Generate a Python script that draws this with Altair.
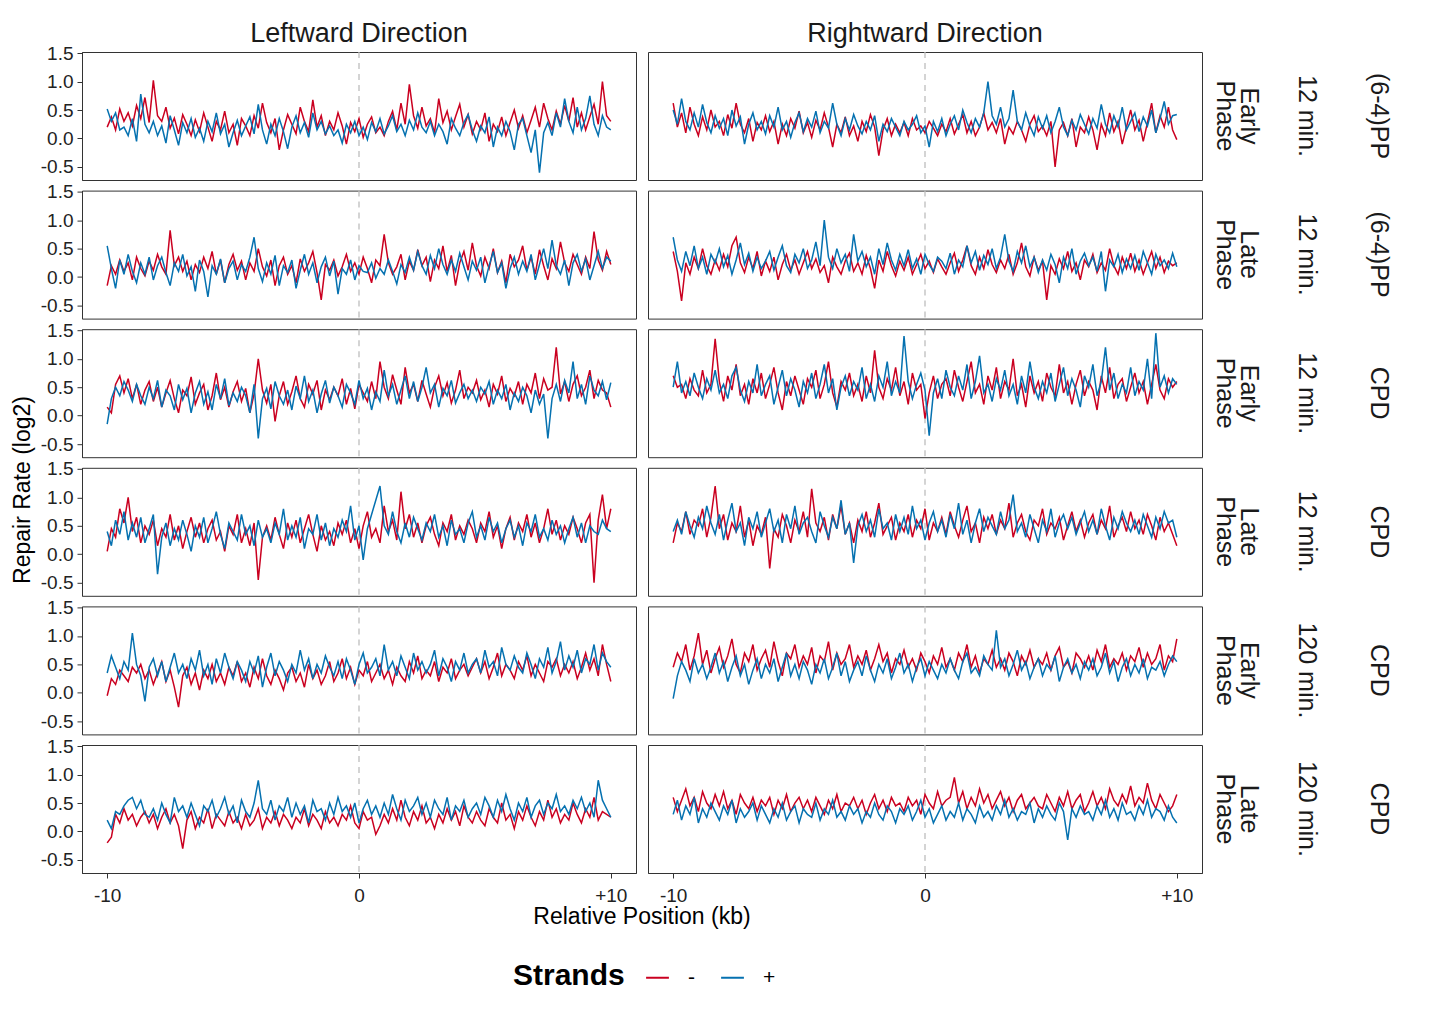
import altair as alt
import pandas as pd
import numpy as np

ROW_KEYS = [
    "(6-4)PP;12 min.;Early Phase",
    "(6-4)PP;12 min.;Late Phase",
    "CPD;12 min.;Early Phase",
    "CPD;12 min.;Late Phase",
    "CPD;120 min.;Early Phase",
    "CPD;120 min.;Late Phase",
]
DIRECTIONS = ["Leftward Direction", "Rightward Direction"]
STRANDS = ["-", "+"]
X_TICKS = [-10, 0, 10]
Y_TICKS = [-0.5, 0.0, 0.5, 1.0, 1.5]
X_TITLE = "Relative Position (kb)"
Y_TITLE = "Repair Rate (log2)"

# ---------- (6-4)PP, 12 min., Early Phase ----------
pp_e_left_minus = [
    .20, .38, .15, .52, .30, .45, .22, .58, .35, .72, .28,
    1.02, .40, .30, .55, .18, .36, .08, .42, .25, .05, .33,
    .12, .45, .20, -.05, .30, .15, .48, .10, .25, -.12, .35,
    .22, .05, .40, .18, .62, .28, .10, .35, -.20, .15, .42,
    .25, .08, .55, .30, .12, .68, .20, .40, .05, .30, .15,
    .45, .22, -.10, .28, .12, .35, .02, .25, .38, .10, .20,
    .05, .30, .48, .15, .62, .25, .95, .40, .18, .55, .22,
    .35, .10, .70, .28, .48, .15, .38, .60, .20, .42, .08,
    .30, .15, .45, -.05, .25, .12, .38, .05, .28, .50, .18,
    .40, .10, .32, .55, .20, .62, .35, .15, .48, .25, .58,
    .30, .72, .20, .45, .15, .38, .60, .25, 1.00, .40, .30,
]
pp_e_left_plus = [
    .52, .30, .45, .15, .20, .05, .35, -.05, .78, .25, .10,
    .30, .05, .22, -.08, .40, .15, -.12, .28, .10, .35, .02,
    .18, -.05, .30, .12, .45, .08, .25, -.15, .10, .32, .05,
    .22, .38, .08, .60, .15, -.10, .25, .05, .35, .12, -.18,
    .20, .40, .10, .28, .02, .45, .15, .30, .08, .22, .05,
    .15, -.08, .25, .10, .30, .05, .20, -.02, .28, .12, .35,
    .08, .22, .40, .12, .25, .05, .32, .15, .45, .20, .10,
    .30, .05, .25, .12, -.10, .35, .18, .05, .28, .42, .15,
    -.05, .22, .10, .38, -.15, .20, .05, .30, .12, -.20, .25,
    .35, .05, -.25, .15, -.60, .10, .28, .05, .45, .20, .70,
    .30, .10, .55, .15, .35, .75, .25, .05, .40, .20, .15,
]
pp_e_right_minus = [
    .62, .20, .45, .10, .55, .25, .05, .38, .15, .50, .20,
    .30, .05, .42, .18, .62, .25, .10, .35, -.05, .28, .15,
    .40, .12, .30, -.10, .25, .05, .35, .18, .48, .10, .28,
    .02, .32, .15, .45, .20, -.15, .25, .10, .38, .05, .22,
    -.05, .30, .12, .42, .20, -.30, .15, .35, .05, .25, .10,
    .28, .05, .35, .15, .22, .10, .30, .18, .05, .25, .12,
    .35, .08, .25, .42, .10, .30, .05, .20, .45, .15, .28,
    .10, .35, -.10, .20, .08, .30, .15, -.05, .25, .40, .12,
    .22, .05, .30, -.50, .15, .28, .05, .35, -.15, .20, .10,
    .38, .15, -.20, .25, .05, .45, .12, .30, -.10, .20, .50,
    .15, .32, -.05, .28, .62, .10, .40, .20, .55, .15, -.02,
]
pp_e_right_plus = [
    .50, .25, .70, .30, .15, .45, .20, .60, .28, .10, .40,
    .18, .35, .05, .50, .22, .38, -.10, .25, .45, .15, .30,
    .08, .40, .20, .55, .15, .30, .02, .28, .45, .12, .35,
    .20, .48, .10, .30, .18, .62, .25, .05, .35, .15, .42,
    .22, .08, .30, .15, .40, -.05, .25, .12, .35, .20, .05,
    .30, .15, .25, .40, .10, .22, -.15, .30, .12, .35, .05,
    .25, .40, .15, .50, .28, .10, .35, .20, .45, 1.00, .40,
    .25, .55, .20, .35, .85, .30, .15, .45, .22, .05, .38,
    .18, .40, .10, .30, .55, .20, .05, .32, .15, .42, .25,
    .08, .35, .18, .60, .25, .10, .40, .20, .55, .15, .30,
    .45, .12, .38, .22, .50, .10, .35, .65, .25, .40, .42,
]

# ---------- (6-4)PP, 12 min., Late Phase ----------
pp_l_left_minus = [
    -.15, .20, .05, .30, .10, .25, -.05, .35, .15, .02, .28,
    .12, .40, .18, .05, .82, .20, .35, .10, .28, -.05, .22,
    .08, .35, .15, .45, .05, .30, -.10, .22, .40, .12, .28,
    -.05, .25, .10, .50, .18, .02, .30, -.15, .20, .35, .05,
    .20, -.10, .32, .10, .25, .45, .08, -.40, .22, .12, .30,
    .02, .18, .40, .10, .25, .05, .35, .15, -.10, .30, .20,
    .75, .25, .05, .18, .40, -.05, .28, .12, .48, .20, .35,
    -.08, .30, .15, .55, .10, .38, -.15, .25, .45, .12, .60,
    .20, .02, .35, .15, .50, .08, .28, -.10, .40, .18, .30,
    .55, .12, .35, .05, .48, .20, -.05, .32, .15, .62, .25,
    .10, .40, .22, .05, .35, .15, .80, .30, .12, .45, .22,
]
pp_l_left_plus = [
    .55, .15, -.20, .30, .05, .40, .10, -.10, .25, .05, .35,
    -.05, .20, .35, .08, -.15, .25, .10, .40, .02, .18, -.25,
    .30, .10, -.35, .20, .05, .32, -.10, .15, .28, -.05, .22,
    .10, .35, .70, .15, -.08, .25, .05, .38, -.15, .20, .08,
    .30, -.20, .12, .40, .05, .25, -.10, .18, .35, .02, .28,
    -.30, .15, .05, .30, -.05, .20, .10, .08, .25, -.02, .15,
    .05, .30, .10, -.12, .22, .08, .35, .12, .45, .20, .05,
    .38, .15, .50, .22, .05, .30, .10, .42, .18, -.05, .28,
    .12, .35, -.10, .20, .45, .08, .25, -.20, .15, .35, .05,
    .28, .10, .40, -.05, .22, .50, .15, .65, .20, .05, .30,
    -.15, .25, .40, .10, .32, -.05, .20, .45, .15, .35, .28,
]
pp_l_right_minus = [
    .45, .10, -.42, .25, .05, .35, .15, .50, .20, .05, .30,
    .12, .40, .18, .55, .70, .25, .08, .35, .15, .45, .02,
    .28, .10, .35, -.05, .22, .40, .12, .30, .05, .25, .45,
    .15, .32, .08, .20, -.10, .35, .18, .05, .28, .42, .10,
    .25, .05, .38, .15, -.20, .30, .10, .45, .20, .02, .28,
    .12, .35, .05, .22, .40, .15, .28, .08, .32, .18, .05,
    .25, .42, .10, .30, .55, .20, .05, .35, .15, .48, .22,
    .08, .30, .15, .40, .05, .25, .60, .18, .02, .35, .12,
    .28, -.40, .20, .05, .32, .15, .45, .10, .25, -.05, .30,
    .18, .40, .08, .25, .12, .50, .20, .05, .35, .15, .42,
    .10, .30, .05, .25, .45, .15, .35, .08, .28, .20, .25,
]
pp_l_right_plus = [
    .70, .30, .10, .45, .20, .55, .15, .35, .05, .40, .25,
    .50, .18, .38, .05, .30, .60, .22, .42, .10, .35, .15,
    .28, .45, .12, .35, .55, .20, .08, .40, .25, .50, .15,
    .30, .62, .20, 1.00, .35, .15, .50, .25, .40, .10, .75,
    .28, .45, .18, .35, .05, .50, .22, .60, .30, .12, .40,
    .20, .48, .15, .32, .05, .40, .22, .10, .35, .28, .15,
    .42, .05, .30, .18, .55, .25, .45, .12, .38, .22, .50,
    .15, .35, .75, .28, .10, .45, .25, .55, .18, .35, .08,
    .30, .12, .40, .22, -.10, .35, .15, .50, .05, .28, .42,
    .20, .35, .10, .45, -.25, .30, .18, .40, .08, .32, .15,
    .38, .12, .45, .25, .05, .40, .20, .30, .15, .42, .18,
]

# ---------- CPD, 12 min., Early Phase ----------
cpd12_e_left_minus = [
    .15, .05, .55, .70, .40, .65, .30, .55, .20, .45, .60,
    .25, .50, .15, .40, .62, .30, .05, .45, .35, .68, .20,
    .40, .55, .10, .35, .75, .28, .50, .15, .42, .60, .25,
    .48, .05, .38, 1.00, .45, .22, .55, -.10, .35, .60, .20,
    .42, .70, .30, .15, .55, .38, .62, .10, .45, .28, .50,
    .35, .65, .20, .48, .12, .55, .40, .25, .60, .30, .95,
    .50, .30, .72, .45, .20, .85, .40, .55, .25, .62, .38,
    .15, .50, .70, .35, .58, .22, .45, .80, .30, .50, .40,
    .62, .28, .45, .15, .55, .38, .70, .25, .48, .35, .60,
    .20, .55, .40, .75, .30, .65, .45, .50, 1.20, .38, .60,
    .25, .55, .70, .35, .50, .80, .30, .62, .45, .40, .15,
]
cpd12_e_left_plus = [
    -.15, .30, .50, .35, .60, .45, .25, .55, .35, .20, .50,
    .30, .62, .15, .45, .35, .10, .55, .28, .48, .05, .40,
    .60, .20, .42, .10, .55, .30, .65, .18, .40, .25, .50,
    .35, .05, .55, -.40, .30, .48, .12, .60, .35, .20, .45,
    .10, .52, .30, .70, .25, .45, .05, .38, .62, .22, .50,
    .35, .15, .55, .40, .20, .62, .30, .48, .10, .42, .25,
    .80, .35, .55, .20, .45, .70, .30, .60, .25, .50, .85,
    .40, .55, .15, .48, .35, .62, .22, .40, .55, .30, .45,
    .25, .50, .38, .60, .20, .45, .30, .55, .10, .40, .25,
    .50, .35, .05, .45, .20, .38, -.40, .30, .55, .25, .62,
    .40, .95, .30, .55, .20, .70, .45, .35, .60, .28, .58,
]
cpd12_e_right_minus = [
    .70, .50, .55, .30, .65, .45, .35, .80, .40, .55, 1.35,
    .60, .25, .70, .45, .90, .35, .55, .20, .65, .40, .75,
    .30, .55, .85, .40, .10, .60, .35, .70, .45, .20, .65,
    .50, .80, .30, .55, .95, .40, .15, .60, .45, .75, .35,
    .55, .25, .70, .40, 1.15, .50, .30, .65, .45, .85, .35,
    .60, .20, .75, .45, .55, -.05, .40, .70, .30, .55, .65,
    .35, .80, .50, .25, .60, .95, .40, .55, .20, .70, .45,
    .85, .30, .60, .45, 1.00, .35, .55, .15, .70, .40, .60,
    .25, .75, .50, .35, .90, .40, .60, .20, .55, .80, .35,
    .60, .45, .10, .70, .40, .85, .30, .55, .65, .25, .50,
    .75, .40, .60, .20, .55, .90, .45, .30, .65, .50, .60,
]
cpd12_e_right_plus = [
    .50, .95, .40, .60, .35, .75, .50, .30, .65, .45, .80,
    .40, .55, .30, .70, .85, .45, .25, .60, .40, .90, .35,
    .55, .70, .20, .50, .80, .35, .65, .45, .15, .60, .40,
    .75, .30, .55, .90, .40, .65, .10, .50, .70, .35, .60,
    .45, .85, .30, .55, .25, .70, .50, .95, .35, .60, .40,
    1.40, .60, .30, .55, .75, .45, -.35, .40, .65, .30, .80,
    .50, .35, .70, .45, .90, .30, .60, 1.05, .40, .55, .25,
    .65, .45, .80, .35, .55, .20, .70, .40, .95, .50, .30,
    .60, .40, .75, .25, .55, .85, .35, .65, .45, .15, .70,
    .50, .90, .35, .60, 1.20, .45, .75, .30, .55, .40, .85,
    .35, .60, .45, 1.00, .30, 1.45, .50, .70, .40, .65, .55,
]

# ---------- CPD, 12 min., Late Phase ----------
cpd12_l_left_minus = [
    .05, .45, .30, .80, .55, 1.00, .40, .65, .20, .50, .35,
    .60, .15, .45, .30, .70, .25, .50, .10, .40, .65, .30,
    .55, .20, .45, .60, .25, .40, .05, .50, .35, .70, .20,
    .45, .15, .55, -.45, .30, .50, .25, .65, .35, .10, .55,
    .30, .60, .20, .45, .70, .35, .05, .50, .25, .40, .15,
    .55, .35, .60, .20, .45, .10, .50, .75, .30, .45, .20,
    .85, .40, .60, .25, 1.10, .45, .70, .30, .55, .20, .50,
    .65, .35, .15, .55, .40, .70, .25, .50, .35, .60, .45,
    .20, .55, .40, .75, .30, .50, .10, .45, .65, .25, .55,
    .40, .70, .30, .55, .20, .45, .80, .35, .60, .25, .50,
    .35, .65, .45, .20, .55, .70, -.50, .60, 1.05, .45, .80,
]
cpd12_l_left_plus = [
    .40, .15, .60, .35, .75, .25, .55, .30, .65, .20, .45,
    .70, -.35, .30, .55, .15, .45, .25, .60, .35, .05, .50,
    .30, .65, .20, .45, .75, .35, .10, .55, .40, .25, .70,
    .35, .50, .15, .60, .30, .45, .20, .55, .35, .80, .25,
    .50, .30, .65, .10, .45, .35, .70, .25, .55, .15, .45,
    .30, .60, .40, .85, .25, .50, -.10, .45, .70, .95, 1.20,
    .50, .35, .75, .40, .20, .55, .30, .65, .45, .25, .55,
    .40, .70, .30, .50, .15, .60, .35, .45, .20, .55, .75,
    .30, .50, .25, .65, .40, .55, .20, .45, .60, .30, .50,
    .15, .55, .40, .70, .30, .45, .25, .60, .35, .50, .20,
    .45, .65, .30, .55, .20, .50, .40, .35, .60, .45, .40,
]
cpd12_l_right_minus = [
    .20, .55, .40, .75, .35, .60, .50, .80, .30, .65, 1.20,
    .45, .70, .25, .55, .40, .85, .30, .60, .15, .50, .35,
    .65, -.25, .45, .30, .70, .50, .20, .60, .40, .75, .30,
    1.15, .55, .40, .65, .25, .70, .45, .85, .35, .55, .20,
    .60, .40, .75, .30, .55, .90, .35, .50, .65, .25, .55,
    .40, .70, .30, .60, .45, .80, .25, .55, .40, .65, .35,
    .75, .50, .30, .60, .85, .40, .55, .20, .65, .45, .70,
    .35, .60, .45, .90, .30, .55, .70, .40, .25, .60, .50,
    .80, .35, .55, .45, .65, .25, .50, .75, .40, .60, .30,
    .55, .70, .35, .60, .45, .85, .30, .50, .65, .40, .75,
    .45, .60, .35, .70, .50, .25, .65, .40, .55, .35, .15,
]
cpd12_l_right_plus = [
    .40, .60, .35, .75, .50, .30, .65, .45, .85, .55, .35,
    .70, .25, .60, .90, .40, .55, .15, .65, .45, .75, .30,
    .55, .80, .40, .60, .20, .70, .45, .85, .35, .55, .65,
    .40, .20, .75, .50, .30, .65, .45, .95, .35, .55, -.15,
    .50, .70, .40, .60, .30, .80, .45, .55, .25, .70, .40,
    .65, .35, .85, .45, .60, .25, .55, .75, .40, .60, .30,
    .70, .45, .90, .35, .60, .20, .55, .80, .40, .65, .50,
    .35, .75, .45, .60, 1.05, .40, .55, .30, .70, .45, .20,
    .60, .40, .80, .30, .55, .70, .45, .65, .35, .55, .75,
    .40, .60, .35, .80, .50, .25, .65, .45, .75, .55, .40,
    .60, .35, .70, .50, .30, .65, .45, .75, .55, .60, .30,
]

# ---------- CPD, 120 min., Early Phase ----------
cpd120_e_left_minus = [
    -.05, .25, .15, .40, .30, .20, .45, .35, .50, .25, .40,
    .15, .35, .55, .20, .40, .10, -.25, .30, .45, .15, .35,
    .05, .40, .25, .50, .20, .35, .15, .45, .30, .55, .20,
    .35, .10, .45, .25, .60, .30, .15, .40, .25, .05, .35,
    .45, .20, .35, .10, .50, .25, .40, .15, .30, .55, .20,
    .35, .60, .25, .45, .15, .40, .30, .55, .20, .35, .50,
    .25, .40, .15, .45, .30, .20, .55, .35, .65, .25, .40,
    .30, .55, .20, .45, .35, .60, .25, .40, .50, .30, .45,
    .60, .35, .55, .25, .45, .70, .30, .50, .40, .25, .55,
    .40, .65, .30, .50, .35, .20, .55, .45, .60, .30, .50,
    .35, .55, .25, .45, .70, .40, .60, .30, .85, .50, .20,
]
cpd120_e_left_plus = [
    .35, .65, .45, .25, .55, .40, 1.05, .50, .30, -.15, .45,
    .60, .30, .55, .20, .45, .70, .35, .50, .25, .60, .40,
    .75, .30, .50, .15, .60, .35, .70, .45, .25, .55, .40,
    .20, .55, .35, .65, .10, .45, .70, .30, .55, .40, .20,
    .50, .35, .75, .40, .60, .25, .50, .35, .65, .45, .30,
    .55, .25, .60, .40, .15, .50, .70, .35, .45, .60, .30,
    .85, .40, .55, .30, .65, .45, .25, .70, .40, .55, .35,
    .50, .75, .30, .60, .45, .20, .55, .40, .70, .35, .50,
    .60, .35, .75, .45, .55, .30, .80, .50, .40, .65, .45,
    .35, .70, .50, .25, .60, .45, .80, .35, .55, .90, .40,
    .65, .45, .75, .35, .60, .50, .85, .40, .70, .55, .45,
]
cpd120_e_right_minus = [
    .45, .70, .55, .85, .40, .65, 1.05, .50, .75, .35, .60,
    .80, .45, .65, .95, .50, .35, .70, .55, .85, .40, .60,
    .75, .45, .90, .55, .30, .70, .60, .85, .45, .65, .50,
    .80, .35, .65, .55, .90, .40, .70, .50, .60, .85, .45,
    .65, .50, .75, .40, .60, .85, .55, .70, .35, .60, .50,
    .75, .45, .60, .40, .70, .55, .35, .65, .50, .80, .45,
    .60, .40, .70, .55, .85, .45, .65, .35, .60, .50, .75,
    .45, .60, .40, .70, .55, .30, .65, .50, .75, .45, .60,
    .50, .70, .40, .65, .80, .45, .55, .35, .70, .60, .45,
    .65, .40, .75, .55, .85, .45, .60, .50, .70, .40, .65,
    .55, .80, .45, .70, .50, .60, .85, .40, .65, .55, .95,
]
cpd120_e_right_plus = [
    -.10, .30, .55, .40, .20, .60, .35, .50, .25, .45, .70,
    .35, .55, .20, .45, .65, .30, .50, .15, .40, .60, .25,
    .50, .35, .60, .20, .45, .70, .30, .50, .25, .55, .40,
    .15, .50, .35, .60, .25, .45, .70, .30, .55, .20, .40,
    .55, .30, .65, .40, .20, .50, .35, .60, .25, .45, .70,
    .35, .50, .20, .45, .60, .30, .55, .40, .25, .50, .35,
    .60, .40, .25, .55, .70, .35, .45, .30, .65, .50, .40,
    1.10, .45, .60, .30, .50, .75, .40, .55, .25, .45, .60,
    .30, .50, .40, .65, .20, .45, .60, .35, .50, .25, .55,
    .40, .60, .30, .45, .70, .35, .55, .20, .45, .60, .30,
    .50, .35, .60, .25, .45, .40, .55, .30, .50, .65, .55,
]

# ---------- CPD, 120 min., Late Phase ----------
cpd120_l_left_minus = [
    -.20, -.10, .30, .15, .40, .20, .30, .10, .25, .35, .15,
    .30, .05, .25, .40, .15, .30, .10, -.30, .20, .35, .05,
    .25, .15, .40, .05, .30, .20, .10, .35, .15, .25, .05,
    .30, .10, .20, .40, .05, .25, .15, .35, .10, .30, .20,
    .05, .25, .15, .40, .10, .30, .20, .05, .35, .15, .25,
    .10, .30, .20, .45, .15, .05, .35, .20, .25, -.05, .10,
    .30, .15, .40, .20, .55, .25, .10, .35, .20, .45, .15,
    .25, .05, .30, .15, .40, .20, .35, .10, .45, .25, .15,
    .35, .20, .10, .40, .25, .15, .50, .20, .30, .05, .35,
    .20, .45, .25, .10, .35, .20, .55, .25, .40, .15, .30,
    .20, .50, .30, .15, .40, .25, .60, .20, .35, .30, .25,
]
cpd120_l_left_plus = [
    .20, .05, .35, .30, .45, .55, .60, .40, .55, .30, .25,
    .40, .20, .50, .30, .15, .60, .35, .45, .25, .50, .30,
    .10, .45, .35, .55, .25, .40, .60, .30, .45, .15, .55,
    .35, .25, .50, .90, .40, .30, .55, .20, .45, .35, .60,
    .25, .50, .30, .45, .15, .55, .35, .40, .20, .50, .30,
    .60, .35, .45, .25, .50, .15, .40, .55, .30, .45, .25,
    .50, .30, .65, .40, .20, .55, .35, .45, .60, .30, .50,
    .25, .55, .40, .30, .60, .20, .45, .35, .55, .25, .40,
    .50, .30, .60, .45, .25, .55, .35, .65, .40, .20, .50,
    .35, .60, .25, .45, .55, .30, .50, .40, .65, .35, .45,
    .30, .55, .40, .60, .35, .50, .25, .90, .55, .40, .25,
]
cpd120_l_right_minus = [
    .60, .35, .55, .75, .45, .60, .35, .70, .50, .40, .65,
    .45, .70, .40, .55, .30, .65, .50, .40, .60, .35, .55,
    .45, .60, .30, .55, .40, .65, .35, .50, .60, .40, .55,
    .35, .60, .45, .30, .55, .40, .65, .35, .50, .45, .60,
    .40, .55, .30, .50, .65, .40, .55, .35, .60, .45, .50,
    .35, .60, .45, .55, .30, .65, .50, .40, .70, .45, .55,
    .60, .95, .50, .70, .40, .60, .45, .75, .50, .65, .40,
    .55, .70, .45, .60, .35, .55, .65, .40, .50, .60, .45,
    .40, .65, .50, .35, .60, .45, .70, .40, .55, .65, .35,
    .50, .70, .45, .60, .40, .75, .55, .45, .65, .50, .80,
    .45, .60, .50, .85, .55, .40, .65, .50, .35, .45, .65,
]
cpd120_l_right_plus = [
    .30, .55, .20, .45, .30, .60, .15, .40, .25, .50, .35,
    .20, .45, .30, .55, .15, .40, .25, .35, .50, .20, .45,
    .30, .15, .40, .25, .50, .20, .35, .45, .15, .40, .30,
    .25, .50, .20, .40, .30, .55, .25, .35, .20, .45, .30,
    .40, .15, .35, .25, .50, .30, .20, .45, .35, .15, .40,
    .30, .45, .20, .35, .55, .25, .40, .15, .30, .45, .20,
    .35, .25, .50, .20, .40, .30, .15, .45, .25, .35, .20,
    .45, .30, .55, .25, .40, .20, .35, .30, .50, .15, .40,
    .25, .45, .30, .20, .50, .35, -.15, .40, .25, .45, .30,
    .35, .20, .45, .30, .55, .25, .40, .20, .50, .30, .35,
    .20, .45, .30, .55, .25, .40, .35, .20, .45, .25, .15,
]

SERIES = [
    (ROW_KEYS[0], DIRECTIONS[0], "-", pp_e_left_minus),
    (ROW_KEYS[0], DIRECTIONS[0], "+", pp_e_left_plus),
    (ROW_KEYS[0], DIRECTIONS[1], "-", pp_e_right_minus),
    (ROW_KEYS[0], DIRECTIONS[1], "+", pp_e_right_plus),
    (ROW_KEYS[1], DIRECTIONS[0], "-", pp_l_left_minus),
    (ROW_KEYS[1], DIRECTIONS[0], "+", pp_l_left_plus),
    (ROW_KEYS[1], DIRECTIONS[1], "-", pp_l_right_minus),
    (ROW_KEYS[1], DIRECTIONS[1], "+", pp_l_right_plus),
    (ROW_KEYS[2], DIRECTIONS[0], "-", cpd12_e_left_minus),
    (ROW_KEYS[2], DIRECTIONS[0], "+", cpd12_e_left_plus),
    (ROW_KEYS[2], DIRECTIONS[1], "-", cpd12_e_right_minus),
    (ROW_KEYS[2], DIRECTIONS[1], "+", cpd12_e_right_plus),
    (ROW_KEYS[3], DIRECTIONS[0], "-", cpd12_l_left_minus),
    (ROW_KEYS[3], DIRECTIONS[0], "+", cpd12_l_left_plus),
    (ROW_KEYS[3], DIRECTIONS[1], "-", cpd12_l_right_minus),
    (ROW_KEYS[3], DIRECTIONS[1], "+", cpd12_l_right_plus),
    (ROW_KEYS[4], DIRECTIONS[0], "-", cpd120_e_left_minus),
    (ROW_KEYS[4], DIRECTIONS[0], "+", cpd120_e_left_plus),
    (ROW_KEYS[4], DIRECTIONS[1], "-", cpd120_e_right_minus),
    (ROW_KEYS[4], DIRECTIONS[1], "+", cpd120_e_right_plus),
    (ROW_KEYS[5], DIRECTIONS[0], "-", cpd120_l_left_minus),
    (ROW_KEYS[5], DIRECTIONS[0], "+", cpd120_l_left_plus),
    (ROW_KEYS[5], DIRECTIONS[1], "-", cpd120_l_right_minus),
    (ROW_KEYS[5], DIRECTIONS[1], "+", cpd120_l_right_plus),
]

records = []
for strand in STRANDS:
    for key, direction, s, vals in SERIES:
        if s != strand:
            continue
        xs = np.linspace(-10, 10, len(vals))
        for i, (x, v) in enumerate(zip(xs, vals)):
            records.append({"pattern": key, "direction": direction, "strand": s,
                            "pos": float(x), "rate": float(v), "idx": i})
df = pd.DataFrame(records)

RED = "#ca0020"
BLUE = "#0571b0"
FONT = "Liberation Sans"
PANEL_W = 554
PANEL_H = 128

x_enc = alt.X(
    "pos:Q",
    scale=alt.Scale(domain=[-11, 11], nice=False, zero=False),
    axis=alt.Axis(values=X_TICKS, title=None, grid=False, labelPadding=8,
                  labelExpr="datum.value > 0 ? '+' + format(datum.value, 'd') : (datum.value < 0 ? '-' + format(-datum.value, 'd') : '0')"),
)
y_enc = alt.Y(
    "rate:Q",
    scale=alt.Scale(domain=[-0.73, 1.52], nice=False, zero=False),
    axis=alt.Axis(values=Y_TICKS, title=None, grid=False, labelPadding=4,
                  labelExpr="datum.value < 0 ? '-' + format(-datum.value, '.1f') : format(datum.value, '.1f')"),
)

lines = alt.Chart().mark_line(strokeWidth=1.5).encode(
    x=x_enc,
    y=y_enc,
    order="idx:Q",
    color=alt.Color(
        "strand:N",
        scale=alt.Scale(domain=STRANDS, range=[RED, BLUE]),
        legend=alt.Legend(
            title="Strands", orient="none", legendX=431, legendY=913,
            direction="horizontal", titleOrient="left",
            titleFontSize=30, titleFontWeight="bold", titleColor="black", titlePadding=20,
            labelFontSize=21, labelColor="black", labelOffset=18, columnPadding=22,
            symbolType="stroke", symbolSize=520, symbolStrokeWidth=2,
        ),
    ),
)

zero_rule = alt.Chart().mark_rule(
    color="#bdbdbd", strokeDash=[6, 5], strokeWidth=1.3
).encode(x=alt.datum(0)).transform_aggregate(n="count()", groupby=["pattern", "direction"])

label_base = alt.Chart().transform_filter(
    alt.datum.direction == DIRECTIONS[1]
).transform_aggregate(
    n="count()", groupby=["pattern", "direction"]
).transform_calculate(
    p_main="split(datum.pattern, ';')[0]",
    p_time="split(datum.pattern, ';')[1]",
    p_phase="split(datum.pattern, ';')[2]",
)
txt_style = dict(angle=90, fontSize=25, align="center", baseline="middle", color="#1a1a1a")
phase_txt = label_base.mark_text(lineBreak=" ", lineHeight=24, **txt_style).encode(
    text="p_phase:N", x=alt.value(PANEL_W + 47), y=alt.value(PANEL_H / 2))
time_txt = label_base.mark_text(**txt_style).encode(
    text="p_time:N", x=alt.value(PANEL_W + 105), y=alt.value(PANEL_H / 2))
main_txt = label_base.mark_text(**txt_style).encode(
    text="p_main:N", x=alt.value(PANEL_W + 177), y=alt.value(PANEL_H / 2))

# shared x-axis title, centred across both columns (drawn in the bottom-left cell)
x_title = alt.Chart().transform_filter(
    (alt.datum.direction == DIRECTIONS[0]) & (alt.datum.pattern == ROW_KEYS[-1])
).transform_aggregate(
    n="count()", groupby=["pattern", "direction"]
).mark_text(fontSize=23, color="black", align="center", baseline="middle").encode(
    text=alt.value(X_TITLE), x=alt.value(PANEL_W + 6), y=alt.value(PANEL_H + 44)
)

chart = alt.layer(zero_rule, lines, phase_txt, time_txt, main_txt, x_title, data=df).properties(
    width=PANEL_W, height=PANEL_H
).facet(
    row=alt.Row(
        "pattern:N", sort=ROW_KEYS, title=Y_TITLE,
        header=alt.Header(
            labels=False,
            titleOrient="left", titleAngle=-90, titleFontSize=23, titleFontWeight="normal",
            titleColor="black", titlePadding=-28,
        ),
    ),
    column=alt.Column(
        "direction:N", sort=DIRECTIONS, title=None,
        header=alt.Header(
            labelOrient="top", labelFontSize=27, labelPadding=4, labelColor="#1a1a1a",
        ),
    ),
    spacing={"row": 10.6, "column": 12},
    bounds="flush",
).properties(
    padding={"left": 3, "top": 12, "right": 5, "bottom": 5}
).configure(font=FONT).configure_view(
    stroke="#333333", strokeWidth=1
).configure_axis(
    labelFontSize=19, labelColor="#222222", tickColor="#333333", tickSize=5,
    domainColor="#222222", domainWidth=1,
)

chart.save("out.html", embed_options={"renderer": "svg", "actions": False})
